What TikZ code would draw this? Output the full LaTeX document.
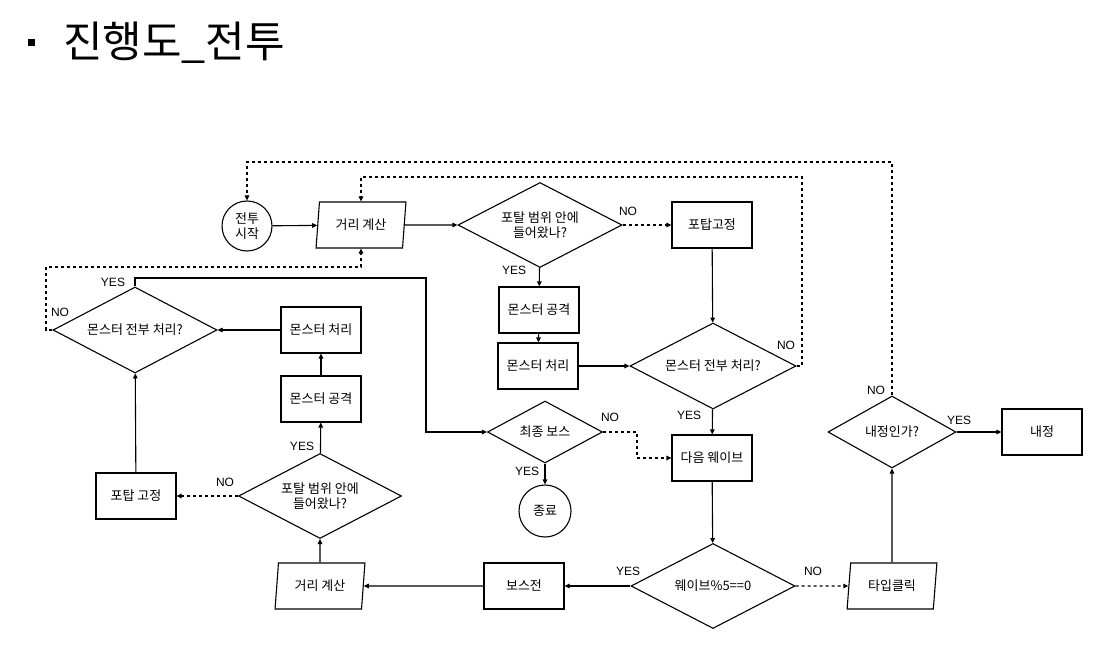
\documentclass[tikz,border=0pt]{standalone}
\usepackage{fontspec}
\setmainfont{Liberation Sans}
\newfontfamily\kr{Noto Sans CJK KR}
\usetikzlibrary{arrows.meta, positioning, shapes.geometric}

\begin{document}
\begin{tikzpicture}[
  x=1pt, y=-1pt,
  every node/.style={font=\kr\fontsize{13}{14.5}\selectfont},
  box/.style={draw, line width=1.1pt, minimum width=80pt, minimum height=46pt,
              inner sep=0pt, align=center},
  decision/.style={draw, diamond, aspect=2, line width=1.1pt, inner sep=0pt, align=center},
  io/.style={draw, trapezium, trapezium left angle=80, trapezium right angle=100,
             trapezium stretches=true, line width=1.1pt, minimum width=90pt,
             minimum height=46pt, inner sep=0pt},
  term/.style={draw, circle, line width=1.1pt, minimum size=50pt, inner sep=0pt, align=center},
  lbl/.style={font=\fontsize{12}{14}\selectfont, inner sep=0pt},
  arrow/.style={-{Triangle[length=5pt, width=4.5pt]}, line width=1.1pt},
  dasharrow/.style={arrow, dash pattern=on 3pt off 3pt},
]
  \useasboundingbox (0,0) rectangle (1105,647);

  % title
  \node[fill=black, minimum size=7pt, inner sep=0pt] (bullet) at (31,43) {};
  \node[anchor=west, inner sep=0pt, font=\kr\fontsize{43}{47}\selectfont] (title) at (63,43) {진행도\_전투};

  % upper flow
  \node[term] (start) at (247,226) {전투\\시작};
  \node[io] (calc) at (361,225) {거리 계산};
  \node[decision, minimum width=164pt, minimum height=85pt] (portal) at (540,225) {포탈 범위 안에\\들어왔나?};
  \node[box] (fix) at (712,225) {포탑고정};
  \node[box] (attack) at (539,310) {몬스터 공격};
  \node[box] (handle) at (538,366) {몬스터 처리};
  \node[decision, minimum width=166pt, minimum height=86pt] (allm) at (713,366) {몬스터 전부 처리?};
  \node[box] (next) at (712,458) {다음 웨이브};
  \node[decision, minimum width=115pt, minimum height=62pt] (boss) at (545,432) {최종 보스};
  \node[term, minimum size=52pt] (end) at (545,511) {종료};
  \node[decision, minimum width=164pt, minimum height=85pt] (wave) at (713,586) {웨이브\%5==0};
  \node[io] (type) at (892,586) {타입클릭};
  \node[decision, minimum width=128pt, minimum height=72pt] (inner) at (892,432) {내정인가?};
  \node[box] (naejung) at (1042,432) {내정};

  % boss fight flow
  \node[box] (bfight) at (524,586) {보스전};
  \node[io] (calcb) at (320,586) {거리 계산};
  \node[decision, minimum width=163pt, minimum height=85pt] (portalb) at (320,496) {포탈 범위 안에\\들어왔나?};
  \node[box] (fixb) at (136,496) {포탑 고정};
  \node[box] (attackb) at (321,399) {몬스터 공격};
  \node[box] (handleb) at (321,330) {몬스터 처리};
  \node[decision, minimum width=164pt, minimum height=86pt] (allmb) at (135,330) {몬스터 전부 처리?};

  % connectors
  \draw[arrow] (start) -- (calc);
  \draw[arrow] (calc) -- (portal);
  \draw[dasharrow] (portal) -- (fix);
  \draw[arrow] (portal) -- (attack);
  \draw[arrow] (attack) -- (handle);
  \draw[arrow] (handle) -- (allm);
  \draw[arrow] (fix) -- (allm);
  \draw[dasharrow] (allm.east) -- (802,366) -- (802,177) -| (calc.north);
  \draw[arrow] (allm) -- (next);
  \draw[dasharrow] (boss.east) -- (637,432) |- (next.west);
  \draw[arrow] (boss) -- (end);
  \draw[arrow] (next) -- (wave);
  \draw[dasharrow] (wave) -- (type);
  \draw[arrow] (type) -- (inner);
  \draw[arrow] (inner) -- (naejung);
  \draw[dasharrow] (inner.north) -- (892,162) -| (start.north);
  \draw[arrow] (wave) -- (bfight);
  \draw[arrow] (bfight) -- (calcb);
  \draw[arrow] (calcb) -- (portalb);
  \draw[dasharrow] (portalb) -- (fixb);
  \draw[arrow] (portalb) -- (attackb);
  \draw[arrow] (attackb) -- (handleb);
  \draw[arrow] (handleb) -- (allmb);
  \draw[arrow] (fixb) -- (allmb);
  \draw[arrow] (allmb.north) |- (426,278) |- (boss.west);
  \draw[dasharrow] (allmb.west) -- (46,330) -- (46,267) -| (calc.south);

  % yes / no labels
  \node[lbl] (n1) at (628,211) {NO};
  \node[lbl] (y1) at (514,270) {YES};
  \node[lbl] (n2) at (786,345) {NO};
  \node[lbl] (y2) at (689,415) {YES};
  \node[lbl] (n3) at (610,417) {NO};
  \node[lbl] (y3) at (527,471) {YES};
  \node[lbl] (y4) at (628,571) {YES};
  \node[lbl] (n4) at (813,571) {NO};
  \node[lbl] (n5) at (876,390) {NO};
  \node[lbl] (y5) at (959,420) {YES};
  \node[lbl] (y6) at (302,446) {YES};
  \node[lbl] (n6) at (225,482) {NO};
  \node[lbl] (y7) at (113,282) {YES};
  \node[lbl] (n7) at (60,312) {NO};
\end{tikzpicture}
\end{document}
